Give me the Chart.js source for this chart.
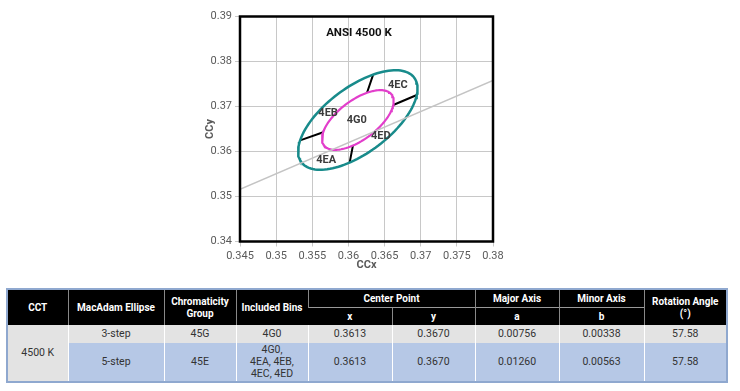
<!DOCTYPE html>
<html>
<head>
  <title>ANSI 4500 K</title>
  <script src="https://cdn.jsdelivr.net/npm/chart.js"></script>
  <style>
    body { margin: 0; background: #fff; font-family: Roboto, sans-serif; width: 740px; height: 391px; position: relative; overflow: hidden; }
    #chartBox { position: absolute; left: 0; top: 0; width: 740px; height: 280px; }
    #specTable {
      position: absolute; left: 6px; top: 288px; width: 720px;
      border-collapse: collapse; table-layout: fixed;
      border: 2px solid #8fa8cf;
      font-size: 10.5px; color: #333; text-align: center;
    }
    #specTable th { background: #000; color: #fff; font-weight: bold; font-size: 10px; padding: 0; border-left: 1px solid #888; line-height: 12px; }
    #specTable th:first-child { border-left: none; }
    #specTable td { padding: 0; border-left: 1px solid #fff; line-height: 12px; }
    #specTable tr.sub th { border-top: 1px solid #999; height: 17px; }
    #specTable tr.top th { height: 17px; }
    #specTable tr.r1 td { background: #e3e3e3; height: 18px; }
    #specTable tr.r2 td { background: #b6c8e6; height: 38px; }
  </style>
</head>
<body>
  <div id="chartBox"><canvas id="chart" width="740" height="280"></canvas></div>

  <table id="specTable">
    <colgroup>
      <col style="width:61px"><col style="width:96px"><col style="width:72px"><col style="width:72px">
      <col style="width:84px"><col style="width:83px"><col style="width:84px"><col style="width:85px"><col style="width:83px">
    </colgroup>
    <tr class="top">
      <th rowspan="2">CCT</th><th rowspan="2">MacAdam Ellipse</th><th rowspan="2">Chromaticity<br>Group</th>
      <th rowspan="2">Included Bins</th><th colspan="2">Center Point</th><th>Major Axis</th><th>Minor Axis</th>
      <th rowspan="2">Rotation Angle<br>(°)</th>
    </tr>
    <tr class="sub"><th>x</th><th>y</th><th>a</th><th>b</th></tr>
    <tr class="r1">
      <td rowspan="2" style="background:#e3e3e3;border-left:none">4500 K</td>
      <td>3-step</td><td>45G</td><td>4G0</td><td>0.3613</td><td>0.3670</td><td>0.00756</td><td>0.00338</td><td>57.58</td>
    </tr>
    <tr class="r2">
      <td>5-step</td><td>45E</td><td>4G0,<br>4EA, 4EB,<br>4EC, 4ED</td><td>0.3613</td><td>0.3670</td><td>0.01260</td><td>0.00563</td><td>57.58</td>
    </tr>
  </table>

  <script>
    // ellipse parameters (from the table)
    const centerX = 0.3613;
    const centerY = 0.3670;
    const rotationDeg = 57.58;
    const step3Axes = [0.00756, 0.00338];   // a, b
    const step5Axes = [0.01260, 0.00563];   // a, b

    // parametric angles where the quadrant boundaries sit
    const binBoundaryAngles = [40, -44, 130, 227];

    // grey reference line (end points)
    const refLineX = [0.345, 0.38];
    const refLineY = [0.3516, 0.3758];

    // bin labels
    const binLabels = ["4EC", "4EB", "4G0", "4ED", "4EA"];
    const binLabelX = [0.36684, 0.35719, 0.36115, 0.36448, 0.35693];
    const binLabelY = [0.37478, 0.36856, 0.36700, 0.36344, 0.35811];

    const xTicks = [0.345, 0.35, 0.355, 0.36, 0.365, 0.37, 0.375, 0.38];
    const yTicks = [0.34, 0.35, 0.36, 0.37, 0.38, 0.39];

    function ellipsePoint(axes, tDeg) {
      const t = tDeg * Math.PI / 180, r = rotationDeg * Math.PI / 180;
      const u = axes[0] * Math.cos(t), v = axes[1] * Math.sin(t);
      return { x: centerX + u * Math.cos(r) - v * Math.sin(r), y: centerY + u * Math.sin(r) + v * Math.cos(r) };
    }
    function ellipse(axes) {
      const pts = [];
      for (let d = 0; d <= 360; d += 3) pts.push(ellipsePoint(axes, d));
      return pts;
    }
    const boundaryPts = [];
    binBoundaryAngles.forEach(t => {
      boundaryPts.push(ellipsePoint(step3Axes, t), ellipsePoint(step5Axes, t), { x: null, y: null });
    });

    const frame = {
      id: "frame",
      afterDraw(chart) {
        const { ctx, chartArea: a, scales } = chart;
        ctx.save();
        ctx.strokeStyle = "#000";
        ctx.lineWidth = 2.5;
        ctx.strokeRect(a.left, a.top, a.right - a.left, a.bottom - a.top);
        ctx.fillStyle = "#3c3c3c";
        ctx.textAlign = "center";
        ctx.textBaseline = "middle";
        ctx.font = "bold 11px Roboto";
        binLabels.forEach((s, i) => {
          ctx.fillText(s, scales.x.getPixelForValue(binLabelX[i]), scales.y.getPixelForValue(binLabelY[i]));
        });
        ctx.fillStyle = "#111";
        ctx.font = "bold 11.5px Roboto";
        ctx.fillText("ANSI 4500 K", scales.x.getPixelForValue(0.36146), scales.y.getPixelForValue(0.38633));
        ctx.restore();
      }
    };

    new Chart(document.getElementById("chart"), {
      type: "scatter",
      data: {
        datasets: [
          { data: refLineX.map((x, i) => ({ x, y: refLineY[i] })), showLine: true, borderColor: "#c4c4c4", borderWidth: 1.5, pointRadius: 0 },
          { data: ellipse(step5Axes), showLine: true, borderColor: "#188b8b", borderWidth: 2.5, pointRadius: 0 },
          { data: ellipse(step3Axes), showLine: true, borderColor: "#e23ecb", borderWidth: 2.2, pointRadius: 0 },
          { data: boundaryPts, showLine: true, spanGaps: false, borderColor: "#000", borderWidth: 2, pointRadius: 0 }
        ]
      },
      options: {
        responsive: false,
        animation: false,
        layout: { padding: { left: 200, right: 247, top: 16.5, bottom: 4.5 } },
        plugins: { legend: { display: false }, tooltip: { enabled: false } },
        scales: {
          x: {
            type: "linear", min: 0.345, max: 0.38,
            afterBuildTicks: s => { s.ticks = xTicks.map(v => ({ value: v })); },
            afterFit: s => { s.height = 34; },
            ticks: { color: "#5a5a5a", font: { family: "Roboto", size: 11 }, padding: 3, maxRotation: 0,
                     callback: v => String(Number(v.toFixed(3))) },
            grid: { color: "#c8c8c8", tickLength: 5 },
            border: { display: false },
            title: { display: true, text: "CCx", color: "#5a5a5a", font: { family: "Roboto", size: 11, weight: "bold" }, padding: 4 }
          },
          y: {
            type: "linear", min: 0.34, max: 0.39,
            afterBuildTicks: s => { s.ticks = yTicks.map(v => ({ value: v })); },
            afterFit: s => { s.width = 40; },
            ticks: { color: "#5a5a5a", font: { family: "Roboto", size: 11 }, padding: 3,
                     callback: v => String(Number(v.toFixed(3))) },
            grid: { color: "#c8c8c8", tickLength: 5 },
            border: { display: false },
            title: { display: true, text: "CCy", color: "#5a5a5a", font: { family: "Roboto", size: 11, weight: "bold" }, padding: 4 }
          }
        }
      },
      plugins: [frame]
    });
  </script>
</body>
</html>
